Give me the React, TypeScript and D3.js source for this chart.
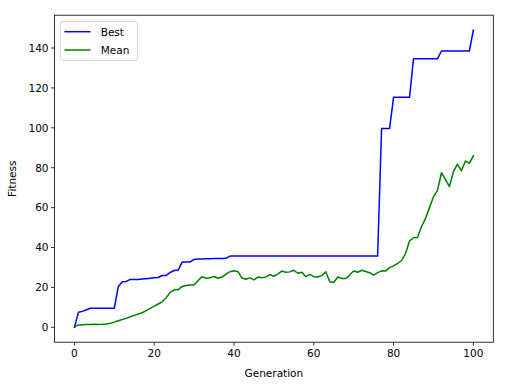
import React from "react";
import * as d3 from "d3";

const generations: number[] = d3.range(0, 101);

const bestValues: number[] = [
  0, 7.6, 8.0, 8.8, 9.6, 9.6, 9.6, 9.6, 9.6, 9.6,
  9.6, 20.5, 22.8, 23.0, 24.0, 24.0, 24.0, 24.2, 24.4, 24.6,
  24.8, 25.0, 26.0, 26.0, 27.5, 28.5, 28.7, 32.7, 32.7, 32.8,
  34.0, 34.2, 34.3, 34.4, 34.4, 34.5, 34.5, 34.5, 34.6, 35.7,
  35.7, 35.7, 35.7, 35.7, 35.7, 35.7, 35.7, 35.7, 35.7, 35.7,
  35.7, 35.7, 35.7, 35.7, 35.7, 35.7, 35.7, 35.7, 35.7, 35.7,
  35.7, 35.7, 35.7, 35.7, 35.7, 35.7, 35.7, 35.7, 35.7, 35.7,
  35.7, 35.7, 35.7, 35.7, 35.7, 35.7, 35.7, 99.7, 99.7, 99.7,
  115.3, 115.3, 115.3, 115.3, 115.3, 134.6, 134.6, 134.6, 134.6, 134.6,
  134.6, 134.6, 138.5, 138.5, 138.5, 138.5, 138.5, 138.5, 138.5, 138.5,
  149,
];

const meanValues: number[] = [
  0, 1.2, 1.3, 1.4, 1.4, 1.5, 1.4, 1.5, 1.7, 2.0,
  2.6, 3.3, 3.9, 4.5, 5.3, 6.0, 6.7, 7.3, 8.4, 9.5,
  10.6, 11.7, 12.8, 14.8, 17.5, 18.8, 18.9, 20.5, 21.0, 21.2,
  21.2, 23.5, 25.4, 24.6, 24.8, 25.5, 24.6, 25.2, 26.7, 27.9,
  28.4, 27.9, 24.7, 24.1, 24.8, 23.8, 25.2, 24.8, 25.3, 26.4,
  25.6, 26.8, 28.2, 27.6, 27.8, 28.6, 27.1, 27.6, 25.4, 26.5,
  25.4, 25.2, 25.9, 27.9, 22.9, 22.5, 25.2, 24.5, 24.5, 26.2,
  28.2, 27.6, 28.6, 28.0, 27.4, 26.2, 27.4, 28.3, 28.2, 29.9,
  30.8, 32.0, 33.5, 37.0, 43.3, 44.9, 45.0, 50.4, 54.6, 60.0,
  65.5, 68.5, 77.5, 74.2, 70.5, 78.0, 81.8, 78.5, 83.4, 82.2,
  86.0,
];

const xTicks: number[] = [0, 20, 40, 60, 80, 100];
const yTicks: number[] = [0, 20, 40, 60, 80, 100, 120, 140];

const seriesNames: string[] = ["Best", "Mean"];
const seriesColors: string[] = ["#0000ff", "#008000"];

const W = 506;
const H = 384;
const left = 54.5;
const right = 493.3;
const top = 15.2;
const bottom = 342.2;
const FONT = "'DejaVu Sans', sans-serif";

export default function App() {
  const x = d3.scaleLinear().domain([-5, 105]).range([left, right]);
  const yMax = 149;
  const pad = yMax * 0.05;
  const y = d3.scaleLinear().domain([-pad, yMax + pad]).range([bottom, top]);

  const line = d3
    .line<[number, number]>()
    .x((d) => x(d[0]))
    .y((d) => y(d[1]));

  const series = [bestValues, meanValues].map((vals) =>
    generations.map((g, i) => [g, vals[i]] as [number, number])
  );

  return (
    <svg
      width={W}
      height={H}
      style={{ position: "absolute", left: 0, top: 0, background: "#fff" }}
      fontFamily={FONT}
    >
      <rect x={0} y={0} width={W} height={H} fill="#fff" />
      <defs>
        <clipPath id="plotclip">
          <rect x={left} y={top} width={right - left} height={bottom - top} />
        </clipPath>
      </defs>
      <g clipPath="url(#plotclip)">
        {series.map((s, i) => (
          <path
            key={seriesNames[i]}
            d={line(s) || ""}
            fill="none"
            stroke={seriesColors[i]}
            strokeWidth={1.5}
            strokeLinejoin="round"
            strokeLinecap="square"
          />
        ))}
      </g>
      <rect
        x={left}
        y={top}
        width={right - left}
        height={bottom - top}
        fill="none"
        stroke="#000"
        strokeWidth={0.8}
      />
      {xTicks.map((t) => (
        <g key={"x" + t}>
          <line x1={x(t)} x2={x(t)} y1={bottom} y2={bottom + 3.5} stroke="#000" strokeWidth={0.8} />
          <text x={x(t)} y={bottom + 15} textAnchor="middle" fontSize={10.5} fill="#000">
            {t}
          </text>
        </g>
      ))}
      {yTicks.map((t) => (
        <g key={"y" + t}>
          <line x1={left - 3.5} x2={left} y1={y(t)} y2={y(t)} stroke="#000" strokeWidth={0.8} />
          <text x={left - 6} y={y(t) + 3.8} textAnchor="end" fontSize={10.5} fill="#000">
            {t}
          </text>
        </g>
      ))}
      <text x={(left + right) / 2} y={377} textAnchor="middle" fontSize={10.5} fill="#000">
        Generation
      </text>
      <text
        transform={`translate(16, ${(top + bottom) / 2}) rotate(-90)`}
        textAnchor="middle"
        fontSize={10.5}
        fill="#000"
      >
        Fitness
      </text>
      <g>
        <rect
          x={60.5}
          y={21.5}
          width={77}
          height={39}
          rx={2}
          fill="#fff"
          fillOpacity={0.8}
          stroke="#cccccc"
          strokeWidth={0.8}
        />
        {seriesNames.map((name, i) => (
          <g key={name}>
            <line
              x1={64.5}
              x2={90.5}
              y1={31.7 + i * 18.3}
              y2={31.7 + i * 18.3}
              stroke={seriesColors[i]}
              strokeWidth={1.5}
            />
            <text x={100.7} y={31.7 + i * 18.3 + 3.8} fontSize={10.5} fill="#000">
              {name}
            </text>
          </g>
        ))}
      </g>
    </svg>
  );
}
